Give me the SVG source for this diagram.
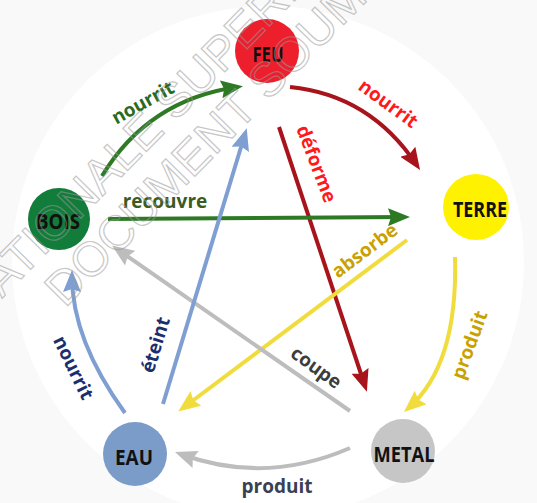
<svg xmlns="http://www.w3.org/2000/svg" width="537" height="503" viewBox="0 0 537 503">
<style>
.lbl{font-family:"Open Sans","Noto Sans","DejaVu Sans",sans-serif;font-weight:700;font-size:19px;text-anchor:middle}
.node text{font-family:"Open Sans","Noto Sans","DejaVu Sans",sans-serif;font-weight:700;font-size:21px;text-anchor:middle;fill:#111}
.c{fill:none;stroke-width:4}
.wm{font-family:"Liberation Sans",Arial,sans-serif;font-size:48px;fill:none;stroke:#9a9a9a;stroke-width:1.2;opacity:0.55}
</style>
<defs>
<marker id="ah-green" viewBox="0 0 22 18" markerWidth="22" markerHeight="18" refX="16" refY="9" orient="auto" markerUnits="userSpaceOnUse"><path d="M0,0 L22,9 L0,18 L3,9 z" fill="#2e7a24"/></marker>
<marker id="ah-red" viewBox="0 0 22 18" markerWidth="22" markerHeight="18" refX="16" refY="9" orient="auto" markerUnits="userSpaceOnUse"><path d="M0,0 L22,9 L0,18 L3,9 z" fill="#a8141c"/></marker>
<marker id="ah-blue" viewBox="0 0 22 18" markerWidth="22" markerHeight="18" refX="16" refY="9" orient="auto" markerUnits="userSpaceOnUse"><path d="M0,0 L22,9 L0,18 L3,9 z" fill="#7f9fd2"/></marker>
<marker id="ah-yellow" viewBox="0 0 22 18" markerWidth="22" markerHeight="18" refX="16" refY="9" orient="auto" markerUnits="userSpaceOnUse"><path d="M0,0 L22,9 L0,18 L3,9 z" fill="#f0dc3c"/></marker>
<marker id="ah-gray" viewBox="0 0 22 18" markerWidth="22" markerHeight="18" refX="16" refY="9" orient="auto" markerUnits="userSpaceOnUse"><path d="M0,0 L22,9 L0,18 L3,9 z" fill="#bdbdbd"/></marker>
</defs>
<rect width="537" height="503" fill="#f9f9f9"/>
<circle cx="268" cy="262" r="256" fill="#ffffff"/>
<g id="connectors">
<path class="c" d="M102,176 Q148,100 237,87" stroke="#2e7a24" marker-end="url(#ah-green)"/>
<path class="c" d="M290,87 Q370,95 416.7,165" stroke="#a8141c" marker-end="url(#ah-red)"/>
<path class="c" d="M279,127 L365,386" stroke="#a8141c" marker-end="url(#ah-red)"/>
<path class="c" d="M108,219 L404,217" stroke="#2e7a24" marker-end="url(#ah-green)"/>
<path class="c" d="M407,240 L183,408" stroke="#f0dc3c" marker-end="url(#ah-yellow)"/>
<path class="c" d="M455,257 Q458,365 408.5,408" stroke="#f0dc3c" marker-end="url(#ah-yellow)"/>
<path class="c" d="M350,411 L117,249" stroke="#bdbdbd" marker-end="url(#ah-gray)"/>
<path class="c" d="M350,448 Q265,485 180.6,454" stroke="#bdbdbd" marker-end="url(#ah-gray)"/>
<path class="c" d="M125,413 Q72,340 72,276" stroke="#7f9fd2" marker-end="url(#ah-blue)"/>
<path class="c" d="M163,404 L245,134" stroke="#7f9fd2" marker-end="url(#ah-blue)"/>
<text class="lbl" transform="translate(143,103) rotate(-29)" y="6" fill="#2b6a1c">nourrit</text>
<text class="lbl" transform="translate(388,104) rotate(36)" y="6" fill="#ff1a1a">nourrit</text>
<text class="lbl" transform="translate(316,164) rotate(69)" y="6" fill="#ff1a1a">déforme</text>
<text class="lbl" x="165" y="208" fill="#3b5b1f">recouvre</text>
<text class="lbl" transform="translate(365,251) rotate(-37)" y="6" fill="#c9a100">absorbe</text>
<text class="lbl" transform="translate(470,345) rotate(-70)" y="6" fill="#c9a100">produit</text>
<text class="lbl" transform="translate(316,368) rotate(36)" y="6" fill="#3d3d3d">coupe</text>
<text class="lbl" x="277" y="493" fill="#3a4152">produit</text>
<text class="lbl" transform="translate(73,368) rotate(64)" y="6" fill="#1b2f6e">nourrit</text>
<text class="lbl" transform="translate(156,345) rotate(-73)" y="6" fill="#1b2f6e">éteint</text>
</g>
<g id="node-feu" class="node"><circle cx="267" cy="51" r="32" fill="#ed1f2d"/><text x="268" y="62" textLength="31" lengthAdjust="spacingAndGlyphs">FEU</text></g>
<g id="node-terre" class="node"><circle cx="476" cy="207" r="33" fill="#fff200"/><text x="480" y="217" textLength="54" lengthAdjust="spacingAndGlyphs">TERRE</text></g>
<g id="node-bois" class="node"><circle cx="59" cy="219" r="31" fill="#127c3a"/><text x="58" y="229" textLength="44" lengthAdjust="spacingAndGlyphs">BOIS</text></g>
<g id="node-eau" class="node"><circle cx="135" cy="454" r="32" fill="#7b9cc8"/><text x="134" y="465" textLength="38" lengthAdjust="spacingAndGlyphs">EAU</text></g>
<g id="node-metal" class="node"><circle cx="403" cy="451" r="32" fill="#c6c6c6"/><text x="404" y="462" textLength="61" lengthAdjust="spacingAndGlyphs">METAL</text></g>
<g id="watermark">
<text class="wm" transform="translate(2,298.5) rotate(-45.5)">ATIONALE SUPERIE</text>
<text class="wm" transform="translate(65,308.5) rotate(-45.5)">DOCUMENT SOUMIS</text>
</g>
</svg>
